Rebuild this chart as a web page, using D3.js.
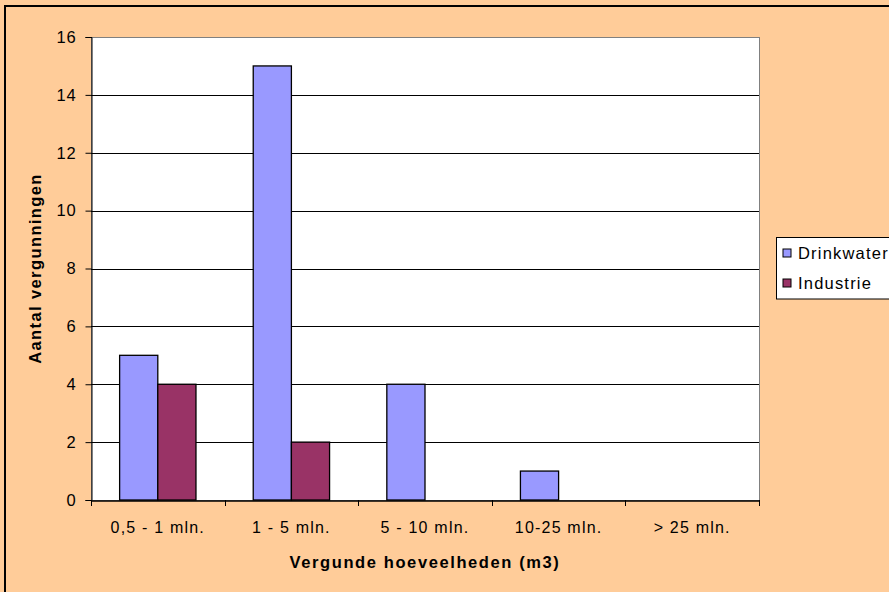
<!DOCTYPE html>
<html><head><meta charset="utf-8">
<script src="https://cdn.jsdelivr.net/npm/d3@7"></script>
<style>
html,body{margin:0;padding:0;background:#fff;}
svg{display:block;}
text{font-family:"Liberation Sans",Arial,sans-serif;fill:#000;}
</style></head>
<body>
<script>
const categories = ["0,5 - 1 mln.", "1 - 5 mln.", "5 - 10 mln.", "10-25 mln.", "> 25 mln."];
const seriesNames = ["Drinkwater", "Industrie"];
const drinkwater = [5, 15, 4, 1, 0];
const industrie = [4, 2, 0, 0, 0];
const yTicks = [0, 2, 4, 6, 8, 10, 12, 14, 16];
const colors = ["#9999FF", "#993366"];

const W = 889, H = 592;
const plot = {l: 91, t: 37, r: 759, b: 500};

const svg = d3.select("body").append("svg").attr("width", W).attr("height", H);
svg.append("rect").attr("x", 0).attr("y", 0).attr("width", W).attr("height", H).attr("fill", "#FFCC99");
svg.append("rect").attr("x", 5).attr("y", 6).attr("width", W + 10).attr("height", H + 10)
  .attr("fill", "none").attr("stroke", "#000").attr("stroke-width", 2);

const x0 = d3.scaleBand().domain(categories).range([plot.l, plot.r]).paddingInner(0).paddingOuter(0);
const groupW = x0.bandwidth() * 2 / 3.5;
const x1 = d3.scaleBand().domain(seriesNames).range([0, groupW]).padding(0);
const y = d3.scaleLinear().domain([0, 16]).range([plot.b, plot.t]);

// plot area
svg.append("rect").attr("x", plot.l).attr("y", plot.t).attr("width", plot.r - plot.l).attr("height", plot.b - plot.t)
  .attr("fill", "#fff").attr("stroke", "#808080").attr("stroke-width", 1).attr("shape-rendering", "crispEdges");

// gridlines
svg.append("g").selectAll("line").data(yTicks.filter(d => d > 0 && d < 16)).join("line")
  .attr("x1", plot.l).attr("x2", plot.r)
  .attr("y1", d => Math.round(y(d)) + 0.5).attr("y2", d => Math.round(y(d)) + 0.5)
  .attr("stroke", "#000").attr("stroke-width", 1);

// bars
const data = categories.map((c, i) => ({c, vals: [drinkwater[i], industrie[i]]}));
const groups = svg.append("g").selectAll("g").data(data).join("g")
  .attr("transform", d => `translate(${x0(d.c) + (x0.bandwidth() - groupW) / 2},0)`);
groups.selectAll("rect").data(d => d.vals.map((v, j) => ({v, s: seriesNames[j], j})).filter(e => e.v > 0)).join("rect")
  .attr("x", e => x1(e.s)).attr("width", x1.bandwidth())
  .attr("y", e => y(e.v)).attr("height", e => y(0) - y(e.v))
  .attr("fill", e => colors[e.j]).attr("stroke", "#000").attr("stroke-width", 1.3);

// y axis
const yAxis = d3.axisLeft(y).tickValues(yTicks).tickSize(6).tickPadding(9).tickFormat(d3.format("d"));
const gy = svg.append("g").attr("transform", `translate(${plot.l + 0.5},0)`).call(yAxis);
gy.select(".domain").attr("stroke", "#000");
gy.selectAll(".tick line").attr("stroke", "#000");
gy.selectAll("text").attr("font-size", 16.5).attr("font-family", "Liberation Sans, Arial, sans-serif").attr("letter-spacing", 0.8);

// x axis
const xAxis = d3.axisBottom(x0).tickSize(0).tickPadding(21);
const gx = svg.append("g").attr("transform", `translate(0,${plot.b + 0.5})`).call(xAxis);
gx.select(".domain").attr("stroke", "#000").attr("stroke-width", 1.5);
gx.selectAll("text").attr("font-size", 16).attr("font-family", "Liberation Sans, Arial, sans-serif").attr("letter-spacing", 1.2);
// category separator ticks
const sepTicks = categories.map(c => x0(c)).concat([plot.r]);
svg.append("g").selectAll("line").data(sepTicks).join("line")
  .attr("x1", d => Math.round(d) + 0.5).attr("x2", d => Math.round(d) + 0.5)
  .attr("y1", plot.b).attr("y2", plot.b + 6).attr("stroke", "#000");

// axis titles
svg.append("text").attr("x", (plot.l + plot.r) / 2).attr("y", 568).attr("text-anchor", "middle")
  .attr("font-size", 16.5).attr("font-weight", "bold").attr("letter-spacing", 1.6)
  .text("Vergunde hoeveelheden (m3)");
svg.append("text").attr("transform", `translate(41,${(plot.t + plot.b) / 2}) rotate(-90)`).attr("text-anchor", "middle")
  .attr("font-size", 16.5).attr("font-weight", "bold").attr("letter-spacing", 1.4)
  .text("Aantal vergunningen");

// legend
const lg = svg.append("g");
lg.append("rect").attr("x", 776.5).attr("y", 237.5).attr("width", 130).attr("height", 61.5)
  .attr("fill", "#fff").attr("stroke", "#000").attr("stroke-width", 1);
const items = lg.selectAll("g").data(seriesNames).join("g")
  .attr("transform", (d, i) => `translate(0,${253 + i * 30})`);
items.append("rect").attr("x", 783).attr("y", -4).attr("width", 8).attr("height", 8)
  .attr("fill", (d, i) => colors[i]).attr("stroke", "#000").attr("stroke-width", 1);
items.append("text").attr("x", 798).attr("y", 6).attr("font-size", 16.5).attr("letter-spacing", 1.2).text(d => d);
</script>
</body></html>
